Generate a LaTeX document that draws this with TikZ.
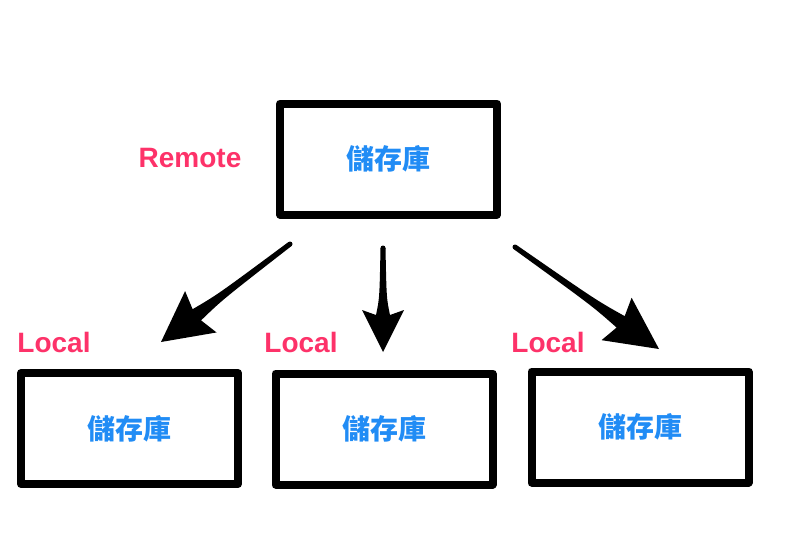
\documentclass[tikz,border=0pt]{standalone}
\usepackage{fontspec}
\usepackage{tikz}
\usetikzlibrary{calc}

\setmainfont{Liberation Sans}
\newfontfamily\cjk{Noto Sans CJK TC}

\definecolor{tagred}{RGB}{253,50,105}
\definecolor{repoblue}{RGB}{33,140,245}

\tikzset{
  repo/.style={draw, line width=8pt, line join=round, minimum width=217pt,
    minimum height=111pt, inner sep=0pt, text=repoblue,
    font=\cjk\bfseries\fontsize{28}{28}\selectfont},
  tag/.style={text=tagred, inner sep=0pt,
    font=\bfseries\fontsize{28}{28}\selectfont}
}

\begin{document}
\begin{tikzpicture}[x=1pt, y=-1pt]

\useasboundingbox (0,0) rectangle (800,544);

% Repositories

\node [repo] (remote) at (388.5,159) {儲存庫};

\foreach \x/\y [count=\i] in {129.5/428.5, 384/429, 640/427}
  \node [repo, text depth=3pt] (local-\i) at (\x,\y) {儲存庫};

% Labels

\node [tag] (tag-remote) at (190,158) {Remote};

\foreach \x [count=\i] in {54, 301, 548}
  \node [tag] (tag-\i) at (\x,342) {Local};

% Arrows

\coordinate (from-1) at (290,244);
\coordinate (to-1)   at (161,342);
\coordinate (from-2) at (383,248);
\coordinate (to-2)   at (383,352);
\coordinate (from-3) at (515,247);
\coordinate (to-3)   at (659,349);

\foreach \i/\l/\w in {1/50/26, 2/42/21, 3/52/26} {
  \coordinate (back) at ($(to-\i)!\l pt!(from-\i)$);
  \coordinate (notch) at ($(to-\i)!{\l pt-5pt}!(from-\i)$);
  \coordinate (bend) at ($(from-\i)!0.75!(notch)$);
  \fill ($(from-\i)!2.5pt!90:(to-\i)$)
     .. controls ($(bend)!3.5pt!90:(to-\i)$) .. ($(notch)!7pt!90:(to-\i)$)
     -- ($(back)!\w pt!90:(to-\i)$)
     -- (to-\i)
     -- ($(back)!\w pt!-90:(to-\i)$)
     -- ($(notch)!7pt!-90:(to-\i)$)
     .. controls ($(bend)!3.5pt!-90:(to-\i)$) .. ($(from-\i)!2.5pt!-90:(to-\i)$)
     -- cycle;
  \fill (from-\i) circle (2.5pt);
}

\end{tikzpicture}
\end{document}
